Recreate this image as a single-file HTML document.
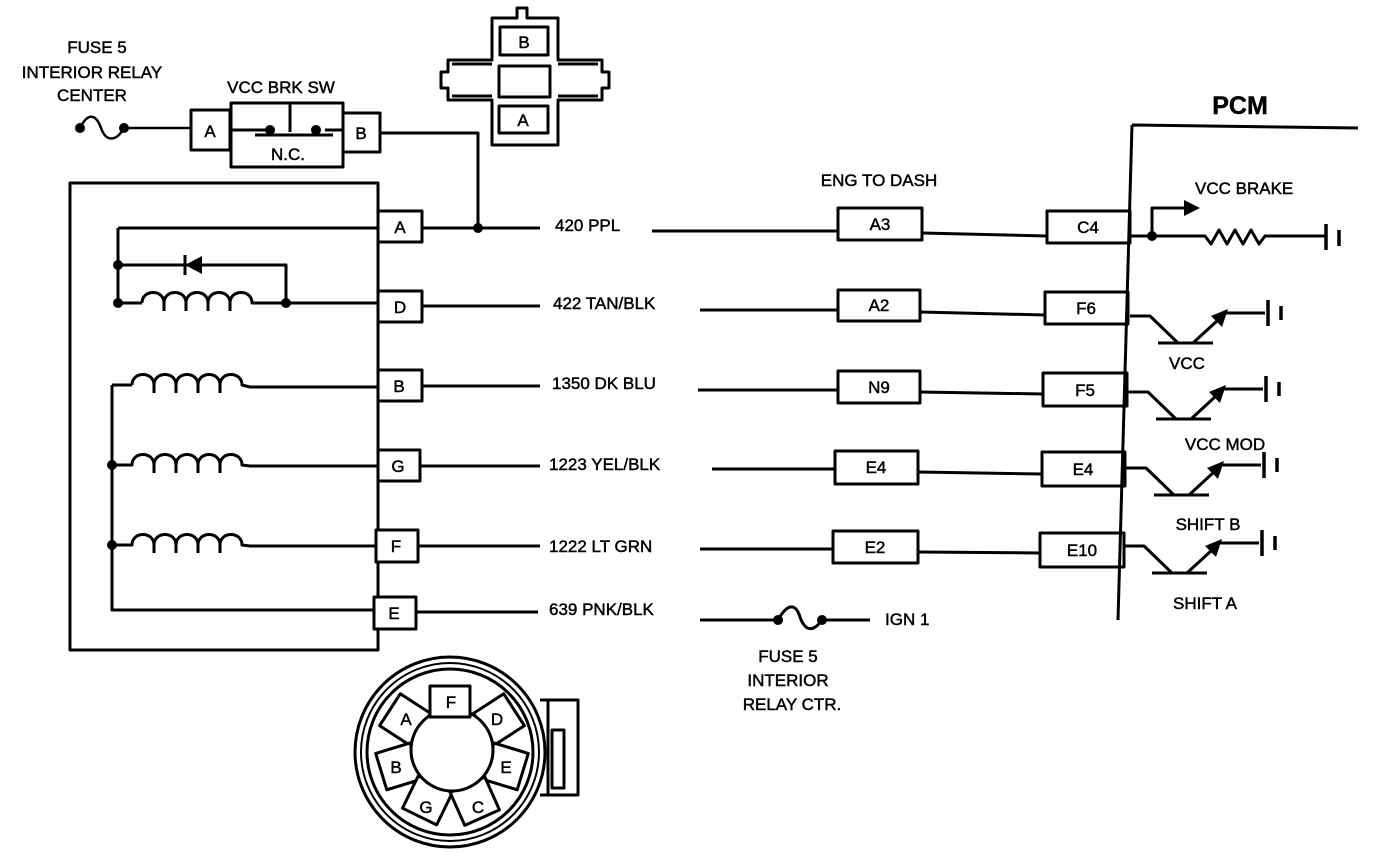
<!DOCTYPE html>
<html><head><meta charset="utf-8"><style>
html,body{margin:0;padding:0;background:#fff;}
svg{display:block;}
text{font-family:"Liberation Sans",sans-serif;font-size:17px;fill:#000;stroke:#000;stroke-width:0.45;}
.b{font-weight:bold;}
</style></head><body>
<svg width="1392" height="852" viewBox="0 0 1392 852" xmlns="http://www.w3.org/2000/svg">
<g fill="none" stroke="#000" stroke-width="3" stroke-linejoin="round">
<!-- top fuse -->
<path d="M80,128 C88,112 96,114 101,128 C106,142 116,142 124,128 L190,128" stroke-width="2.5"/>
<!-- switch -->
<rect x="191" y="110" width="39" height="40"/>
<rect x="231" y="103" width="112" height="64"/>
<path d="M290,103 V132 M231,130 H268 M325,130 H343 M255,135 H333"/>
<rect x="343" y="113" width="37" height="39"/>
<path d="M380,133 H478 V228"/>
<!-- connector cross -->
<path d="M492,18 H517 V8 H527 V18 H558 V60 H602 V72 H609 V88 H602 V100 H558 V145 H492 V100 H448 V88 H441 V72 H448 V60 H492 Z"/>
<rect x="500" y="27" width="48" height="28"/>
<rect x="499" y="66" width="51" height="31"/>
<rect x="499" y="106" width="49" height="27"/>
<path d="M452,64 H492 M452,96 H492 M558,64 H598 M558,96 H598"/>
<!-- big box -->
<path d="M70,183 H378 V650 H70 Z"/>
<!-- A row -->
<path d="M118,228 H378 M118,228 V303 M118,265 H286 V303 M118,303 H142"/>
<path d="M142,303 c0,-14 22,-14 22,0 v8 m0,-8 c0,-14 22,-14 22,0 v8 m0,-8 c0,-14 22,-14 22,0 v8 m0,-8 c0,-14 22,-14 22,0 v8 m0,-8 c0,-14 22,-14 22,0 L262,303 H378"/>
<path d="M185,255 V275"/>
<!-- coils B G F -->
<path d="M112,385 V610 H378 M112,385 H132"/>
<path d="M132,385 c0,-14 22,-14 22,0 v8 m0,-8 c0,-14 22,-14 22,0 v8 m0,-8 c0,-14 22,-14 22,0 v8 m0,-8 c0,-14 22,-14 22,0 v8 m0,-8 c0,-14 22,-14 22,0 L250,387 H378"/>
<path d="M112,465 H132 c0,-14 22,-14 22,0 v8 m0,-8 c0,-14 22,-14 22,0 v8 m0,-8 c0,-14 22,-14 22,0 v8 m0,-8 c0,-14 22,-14 22,0 v8 m0,-8 c0,-14 22,-14 22,0 L250,466 H378"/>
<path d="M112,545 H132 c0,-14 22,-14 22,0 v8 m0,-8 c0,-14 22,-14 22,0 v8 m0,-8 c0,-14 22,-14 22,0 v8 m0,-8 c0,-14 22,-14 22,0 v8 m0,-8 c0,-14 22,-14 22,0 L250,546 H378"/>
<!-- pin boxes -->
<rect x="378" y="211" width="44" height="31" fill="#fff"/>
<rect x="378" y="291" width="44" height="31" fill="#fff"/>
<rect x="378" y="370" width="44" height="31" fill="#fff"/>
<rect x="378" y="450" width="42" height="31" fill="#fff"/>
<rect x="376" y="530" width="42" height="32" fill="#fff"/>
<rect x="374" y="597" width="42" height="32" fill="#fff"/>
<!-- wires -->
<path d="M422,228 H540 M652,231 H838 M922,233 L1047,236"/>
<path d="M422,306 H540 M700,310 H838 M920,312 L1045,315"/>
<path d="M422,386 H540 M698,390 H838 M920,392 L1043,394"/>
<path d="M420,466 H540 M712,469 H835 M918,472 L1042,474"/>
<path d="M418,546 H540 M700,549 H833 M918,552 L1040,553"/>
<path d="M416,612 H538 M700,620 H778 C788,602 796,604 800,617 C806,634 815,630 822,620 H870"/>
<!-- eng boxes -->
<rect x="838" y="208" width="84" height="32"/>
<rect x="838" y="290" width="82" height="31"/>
<rect x="838" y="371" width="82" height="32"/>
<rect x="835" y="451" width="83" height="33"/>
<rect x="833" y="531" width="85" height="32"/>
<!-- pcm boxes -->
<rect x="1047" y="211" width="83" height="32"/>
<rect x="1045" y="292" width="83" height="32"/>
<rect x="1043" y="373" width="84" height="33"/>
<rect x="1042" y="452" width="83" height="34"/>
<rect x="1040" y="533" width="84" height="34"/>
<path d="M1132,125 L1118,620 M1132,125 L1358,128"/>
<!-- VCC brake -->
<path d="M1130,236 H1205 l6,8 l8,-14 l8,14 l8,-14 l8,14 l8,-14 l8,14 l6,-8 H1325 M1152,236 V208 H1185"/>
<path d="M1326,224 V250 M1339,230 V246" stroke-width="3.5"/>
<!-- transistors -->
<g id="t">
<path d="M1130,316 H1150 L1178,343 M1158,343 H1213 M1193,343 L1218,320 M1225,313 H1265"/>
<path d="M1268,300 V326 M1281,306 V320" stroke-width="3.5"/>
</g>
<use href="#t" transform="translate(-2,76)"/>
<use href="#t" transform="translate(-4,152)"/>
<use href="#t" transform="translate(-6,230)"/>
<!-- bottom connector -->
<circle cx="450" cy="752" r="95"/>
<circle cx="450" cy="752" r="89" stroke-width="2"/>
<circle cx="450" cy="752" r="83"/>
<g fill="#fff">
<rect x="433" y="676" width="38" height="36" transform="rotate(303 452 750)"/>
<rect x="433" y="676" width="38" height="36" transform="rotate(57 452 750)"/>
<rect x="433" y="676" width="38" height="36" transform="rotate(253 452 750)"/>
<rect x="433" y="676" width="38" height="36" transform="rotate(107 452 750)"/>
<rect x="433" y="676" width="38" height="36" transform="rotate(206 452 750)"/>
<rect x="433" y="676" width="38" height="36" transform="rotate(156 452 750)"/>
<circle cx="452" cy="750" r="41"/>
<rect x="430" y="686" width="40" height="31"/>
</g>
<path d="M540,700 H578 V795 H540 M548,700 V795"/>
<rect x="552" y="730" width="12" height="58"/>
</g>
<g fill="#000">
<circle cx="80" cy="128" r="5"/><circle cx="124" cy="128" r="5"/>
<circle cx="270" cy="130" r="5"/><circle cx="316" cy="130" r="5"/>
<circle cx="478" cy="228" r="5"/>
<circle cx="118" cy="265" r="5"/><circle cx="118" cy="303" r="5"/><circle cx="286" cy="303" r="5"/>
<circle cx="112" cy="465" r="5"/><circle cx="112" cy="545" r="5"/>
<circle cx="778" cy="620" r="5"/><circle cx="822" cy="620" r="5"/>
<circle cx="1152" cy="236" r="5"/>
<polygon points="185,265 202,256 202,274"/>
<polygon points="1184,200 1200,208 1184,216"/>
<polygon points="1228,309 1222,327 1211,316"/>
<polygon points="1226,385 1220,403 1209,392"/>
<polygon points="1224,461 1218,479 1207,468"/>
<polygon points="1222,539 1216,557 1205,546"/>
</g>
<text x="97" y="53" text-anchor="middle">FUSE 5</text>
<text x="92" y="78" text-anchor="middle">INTERIOR RELAY</text>
<text x="92" y="101" text-anchor="middle">CENTER</text>
<text x="281" y="93" text-anchor="middle">VCC BRK SW</text>
<text x="210" y="137" text-anchor="middle">A</text>
<text x="361" y="139" text-anchor="middle">B</text>
<text x="288" y="160" text-anchor="middle">N.C.</text>
<text x="524" y="48" text-anchor="middle">B</text>
<text x="523" y="126" text-anchor="middle">A</text>
<text x="400" y="233" text-anchor="middle">A</text>
<text x="400" y="313" text-anchor="middle">D</text>
<text x="399" y="392" text-anchor="middle">B</text>
<text x="398" y="472" text-anchor="middle">G</text>
<text x="396" y="552" text-anchor="middle">F</text>
<text x="394" y="619" text-anchor="middle">E</text>
<text x="555" y="231">420 PPL</text>
<text x="553" y="309">422 TAN/BLK</text>
<text x="552" y="389">1350 DK BLU</text>
<text x="549" y="470">1223 YEL/BLK</text>
<text x="549" y="552">1222 LT GRN</text>
<text x="549" y="615">639 PNK/BLK</text>
<text x="879" y="186" text-anchor="middle">ENG TO DASH</text>
<text x="880" y="230" text-anchor="middle">A3</text>
<text x="879" y="311" text-anchor="middle">A2</text>
<text x="879" y="393" text-anchor="middle">N9</text>
<text x="876" y="473" text-anchor="middle">E4</text>
<text x="875" y="553" text-anchor="middle">E2</text>
<text x="1088" y="233" text-anchor="middle">C4</text>
<text x="1086" y="314" text-anchor="middle">F6</text>
<text x="1085" y="396" text-anchor="middle">F5</text>
<text x="1083" y="475" text-anchor="middle">E4</text>
<text x="1082" y="556" text-anchor="middle">E10</text>
<text x="1240" y="114" text-anchor="middle" class="b" style="font-size:25px">PCM</text>
<text x="1195" y="194">VCC BRAKE</text>
<text x="1187" y="369" text-anchor="middle">VCC</text>
<text x="1225" y="450" text-anchor="middle">VCC MOD</text>
<text x="1208" y="530" text-anchor="middle">SHIFT B</text>
<text x="1205" y="609" text-anchor="middle">SHIFT A</text>
<text x="885" y="625">IGN 1</text>
<text x="788" y="662" text-anchor="middle">FUSE 5</text>
<text x="788" y="686" text-anchor="middle">INTERIOR</text>
<text x="792" y="710" text-anchor="middle">RELAY CTR.</text>
<text x="451" y="708" text-anchor="middle">F</text>
<text x="406" y="725" text-anchor="middle">A</text>
<text x="497" y="725" text-anchor="middle">D</text>
<text x="396" y="773" text-anchor="middle">B</text>
<text x="506" y="773" text-anchor="middle">E</text>
<text x="426" y="813" text-anchor="middle">G</text>
<text x="478" y="813" text-anchor="middle">C</text>
</svg>
</body></html>
